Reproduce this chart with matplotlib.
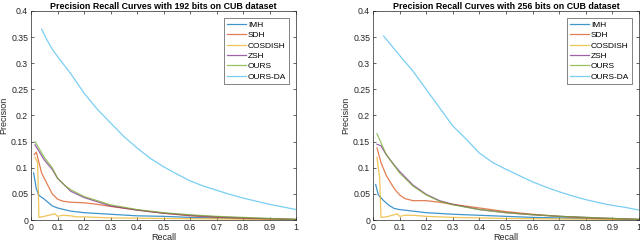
import numpy as np
import matplotlib
matplotlib.use('Agg')
import matplotlib.pyplot as plt

# MATLAB default line colors
COLORS = ['#0072BD', '#D95319', '#EDB120', '#7E2F8E', '#77AC30', '#4DBEEE']
METHODS = ['IMH', 'SDH', 'COSDISH', 'ZSH', 'OURS', 'OURS-DA']

# ---- 192 bits ----
imh_192_r = [0.01, 0.02, 0.03, 0.05, 0.08, 0.1, 0.15, 0.2, 0.3, 0.4, 0.5, 0.6, 0.7, 0.8, 1.0]
imh_192_p = [0.09, 0.06, 0.047, 0.04, 0.027, 0.023, 0.017, 0.014, 0.011, 0.008, 0.007, 0.005, 0.004, 0.003, 0.001]
sdh_192_r = [0.012, 0.02, 0.04, 0.06, 0.08, 0.1, 0.12, 0.15, 0.2, 0.25, 0.3, 0.4, 0.5, 0.6, 0.7, 0.8, 1.0]
sdh_192_p = [0.125, 0.13, 0.09, 0.07, 0.05, 0.04, 0.036, 0.034, 0.033, 0.03, 0.026, 0.019, 0.013, 0.008, 0.005, 0.003, 0.001]
cos_192_r = [0.015, 0.025, 0.03, 0.05, 0.09, 0.1, 0.12, 0.15, 0.17, 0.2, 0.3, 0.5, 0.7, 1.0]
cos_192_p = [0.12, 0.11, 0.005, 0.007, 0.012, 0.007, 0.009, 0.008, 0.006, 0.006, 0.004, 0.003, 0.002, 0.001]
zsh_192_r = [0.015, 0.05, 0.08, 0.1, 0.15, 0.2, 0.3, 0.4, 0.5, 0.6, 0.7, 0.8, 1.0]
zsh_192_p = [0.144, 0.115, 0.097, 0.08, 0.055, 0.043, 0.027, 0.019, 0.013, 0.009, 0.006, 0.004, 0.001]
ours_192_r = [0.015, 0.05, 0.08, 0.1, 0.13, 0.15, 0.2, 0.25, 0.3, 0.4, 0.5, 0.6, 0.7, 0.8, 0.9, 1.0]
ours_192_p = [0.15, 0.12, 0.1, 0.08, 0.065, 0.058, 0.045, 0.037, 0.029, 0.02, 0.014, 0.01, 0.007, 0.005, 0.003, 0.001]
da_192_r = [0.04, 0.06, 0.08, 0.1, 0.15, 0.2, 0.25, 0.3, 0.35, 0.4, 0.45, 0.5, 0.55, 0.6,
            0.65, 0.7, 0.75, 0.8, 0.85, 0.9, 0.95, 1.0]
da_192_p = [0.365, 0.345, 0.327, 0.313, 0.28, 0.243, 0.212, 0.186, 0.16, 0.138, 0.118, 0.102, 0.088, 0.075,
            0.065, 0.057, 0.049, 0.042, 0.036, 0.03, 0.025, 0.02]

# ---- 256 bits ----
imh_256_r = [0.01, 0.02, 0.04, 0.06, 0.08, 0.1, 0.15, 0.2, 0.3, 0.4, 0.5, 0.6, 0.7, 0.8, 1.0]
imh_256_p = [0.068, 0.048, 0.037, 0.028, 0.022, 0.02, 0.017, 0.014, 0.011, 0.009, 0.007, 0.005, 0.004, 0.003, 0.001]
sdh_256_r = [0.015, 0.03, 0.05, 0.08, 0.1, 0.12, 0.15, 0.2, 0.25, 0.3, 0.4, 0.5, 0.6, 0.7, 0.8, 0.9, 1.0]
sdh_256_p = [0.138, 0.11, 0.085, 0.06, 0.048, 0.041, 0.037, 0.037, 0.034, 0.03, 0.023, 0.016, 0.011, 0.007, 0.004, 0.002, 0.001]
cos_256_r = [0.015, 0.025, 0.03, 0.05, 0.08, 0.09, 0.1, 0.12, 0.15, 0.2, 0.3, 0.5, 0.7, 1.0]
cos_256_p = [0.12, 0.08, 0.005, 0.006, 0.01, 0.012, 0.007, 0.009, 0.009, 0.007, 0.005, 0.003, 0.002, 0.001]
zsh_256_r = [0.015, 0.03, 0.05, 0.08, 0.1, 0.15, 0.2, 0.25, 0.3, 0.4, 0.5, 0.6, 0.7, 0.8, 1.0]
zsh_256_p = [0.145, 0.142, 0.125, 0.105, 0.093, 0.067, 0.049, 0.037, 0.03, 0.02, 0.014, 0.01, 0.007, 0.005, 0.001]
ours_256_r = [0.015, 0.05, 0.1, 0.15, 0.2, 0.25, 0.3, 0.4, 0.5, 0.6, 0.7, 0.8, 0.9, 1.0]
ours_256_p = [0.165, 0.125, 0.09, 0.065, 0.048, 0.036, 0.029, 0.02, 0.014, 0.01, 0.007, 0.005, 0.003, 0.001]
da_256_r = [0.04, 0.1, 0.15, 0.2, 0.25, 0.3, 0.35, 0.4, 0.45, 0.5, 0.55, 0.6,
            0.65, 0.7, 0.75, 0.8, 0.85, 0.9, 0.95, 1.0]
da_256_p = [0.352, 0.315, 0.285, 0.25, 0.215, 0.18, 0.155, 0.128, 0.11, 0.097, 0.085, 0.073,
            0.063, 0.054, 0.046, 0.039, 0.033, 0.028, 0.024, 0.019]

x_ticks = [0, 0.1, 0.2, 0.3, 0.4, 0.5, 0.6, 0.7, 0.8, 0.9, 1.0]
x_tick_labels = ['0', '0.1', '0.2', '0.3', '0.4', '0.5', '0.6', '0.7', '0.8', '0.9', '1']
y_ticks = [0, 0.05, 0.1, 0.15, 0.2, 0.25, 0.3, 0.35, 0.4]
y_tick_labels = ['0', '0.05', '0.1', '0.15', '0.2', '0.25', '0.3', '0.35', '0.4']

panels = [
    ('Precision Recall Curves with 192 bits on CUB dataset',
     [(imh_192_r, imh_192_p), (sdh_192_r, sdh_192_p), (cos_192_r, cos_192_p),
      (zsh_192_r, zsh_192_p), (ours_192_r, ours_192_p), (da_192_r, da_192_p)]),
    ('Precision Recall Curves with 256 bits on CUB dataset',
     [(imh_256_r, imh_256_p), (sdh_256_r, sdh_256_p), (cos_256_r, cos_256_p),
      (zsh_256_r, zsh_256_p), (ours_256_r, ours_256_p), (da_256_r, da_256_p)]),
]

NARROW = 'Liberation Sans Narrow'
plt.rcParams['font.family'] = [NARROW, 'Liberation Sans']
fig = plt.figure(figsize=(6.4, 2.45), dpi=100)
axes_rects = [[31 / 640, 25 / 245, 265 / 640, 209 / 245],
              [373 / 640, 25 / 245, 266 / 640, 209 / 245]]

for rect, (title, curves) in zip(axes_rects, panels):
    ax = fig.add_axes(rect)
    for (r, p), name, c in zip(curves, METHODS, COLORS):
        ax.plot(r, p, color=c, linewidth=0.9, label=name, alpha=0.75)
    ax.set_xlim(0, 1)
    ax.set_ylim(0, 0.4)
    ax.set_xticks(x_ticks)
    ax.set_xticklabels(x_tick_labels)
    ax.set_yticks(y_ticks)
    ax.set_yticklabels(y_tick_labels)
    ax.tick_params(direction='in', length=2.5, width=0.5, labelsize=6.3,
                   colors='#262626', top=True, right=True, pad=2)
    for s in ax.spines.values():
        s.set_linewidth(0.5)
        s.set_color('#262626')
    ax.set_xlabel('Recall', fontsize=6.5, color='#262626', labelpad=1,
                  family='Liberation Sans')
    ax.set_ylabel('Precision', fontsize=6.5, color='#262626', labelpad=2,
                  family='Liberation Sans')
    ax.set_title(title, fontsize=6.4, fontweight='bold', pad=1.5, family='Liberation Sans')
    leg = ax.legend(loc='upper right', fontsize=6, frameon=True, fancybox=False,
                    handlelength=2.3, borderpad=0.35, labelspacing=0.3,
                    handletextpad=0.2, borderaxespad=0.0,
                    bbox_to_anchor=(0.975, 0.965))
    leg.get_frame().set_edgecolor('#262626')
    leg.get_frame().set_linewidth(0.5)

fig.savefig('out.png', dpi=100)
